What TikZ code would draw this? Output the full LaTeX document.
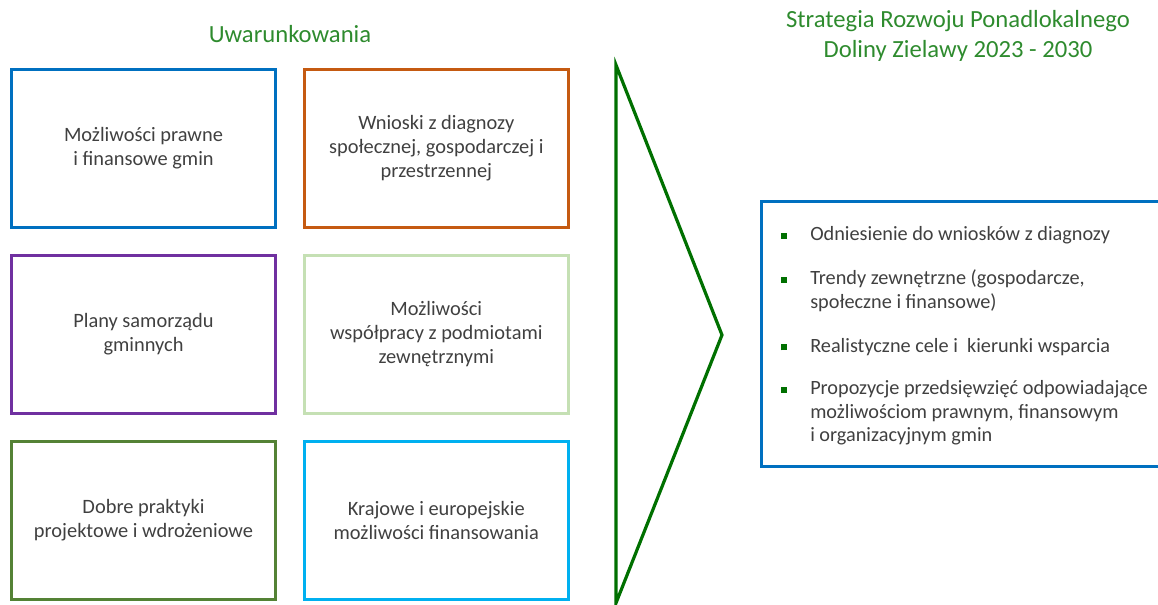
\documentclass[tikz,border=0pt]{standalone}
\usepackage{fontspec}
\setmainfont{Carlito}
\definecolor{blau}{HTML}{0070C0}
\definecolor{orange}{HTML}{C55A11}
\definecolor{lila}{HTML}{7030A0}
\definecolor{hellgruen}{HTML}{C5E0B4}
\definecolor{gruen}{HTML}{548235}
\definecolor{cyan}{HTML}{00B0F0}
\definecolor{pfeilgruen}{HTML}{007000}
\definecolor{titelgruen}{HTML}{2E8B2E}
\definecolor{textgrau}{HTML}{404040}
\newcommand{\punkt}{\textcolor{pfeilgruen}{\raisebox{1.5pt}{\rule{4.5pt}{4.5pt}}}}
\tikzset{
  kasten/.style={rectangle, line width=2.25pt, minimum width=198pt, minimum height=118.5pt,
    align=center, text=textgrau, font=\fontsize{15.3}{18}\selectfont},
  titel/.style={align=center, text=titelgruen, font=\fontsize{18.5}{22.5}\selectfont}
}
\begin{document}
\begin{tikzpicture}[x=0.75pt, y=-0.75pt, node distance=219.6pt]
\useasboundingbox (0,0) rectangle (1158,605);
\node[titel] (uwar) at (290,34) {Uwarunkowania};
\node[titel] (strtitel) at (958,36) {Strategia Rozwoju Ponadlokalnego\\Doliny Zielawy 2023 - 2030};

\node[kasten, draw=blau]   (prawne)  at (143.5,148.5) {Możliwości prawne\\i finansowe gmin};
\node[kasten, draw=orange] (wnioski) [right of=prawne] {Wnioski z diagnozy\\społecznej, gospodarczej i\\przestrzennej};
\node[kasten, draw=lila, node distance=139.5pt]      (plany)   [below of=prawne]  {Plany samorządu\\gminnych};
\node[kasten, draw=hellgruen, node distance=139.5pt] (wspolp)  [below of=wnioski] {Możliwości\\współpracy z podmiotami\\zewnętrznymi};
\node[kasten, draw=gruen, node distance=139.5pt]     (praktyki) [below of=plany]  {Dobre praktyki\\projektowe i wdrożeniowe};
\node[kasten, draw=cyan, node distance=139.5pt]      (finans)  [below of=wspolp]  {Krajowe i europejskie\\możliwości finansowania};

% Pfeil
\coordinate (oben) at (616,65);
\coordinate (spitze) at (722,335);
\coordinate (unten) at (616,603);
\draw[pfeilgruen, line width=2.4pt, line join=miter] (oben) -- (spitze) -- (unten) -- cycle;

\node[rectangle, draw=blau, line width=2.25pt, minimum width=306.4pt, minimum height=198.75pt] (strategia) at (965.75,334) {};
\node[anchor=base west, inner sep=0pt, text=textgrau, font=\fontsize{15.2}{17.6}\selectfont] (liste) at (781,241)
{\begin{tabular}[t]{@{}p{21.75pt}@{}l@{}}
\punkt & Odniesienie do wniosków z diagnozy\\[15.4pt]
\punkt & Trendy zewnętrzne (gospodarcze,\\
       & społeczne i finansowe)\\[15.4pt]
\punkt & Realistyczne cele i~ kierunki wsparcia\\[14pt]
\punkt & Propozycje przedsięwzięć odpowiadające\\
       & możliwościom prawnym, finansowym\\
       & i organizacyjnym gmin
\end{tabular}};
\end{tikzpicture}
\end{document}
